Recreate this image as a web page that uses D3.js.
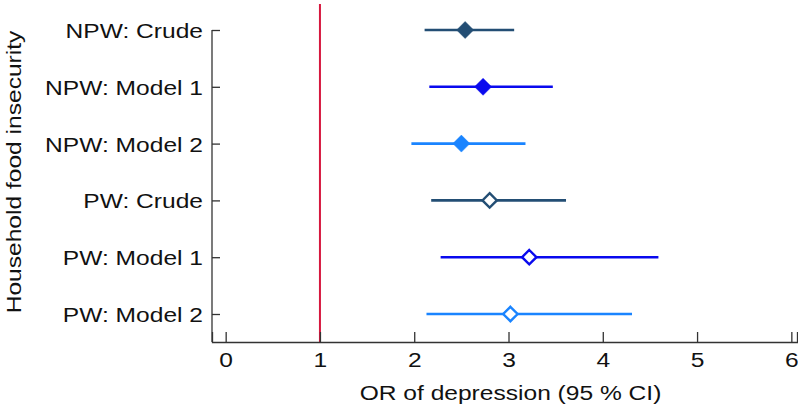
<!DOCTYPE html>
<html>
<head>
<meta charset="utf-8">
<script src="https://cdn.jsdelivr.net/npm/d3@7"></script>
<style>
  html, body { margin: 0; padding: 0; background: #fff; }
  svg { display: block; }
  text { font-family: "Liberation Sans", Arial, Helvetica, sans-serif; fill: #111; }
</style>
</head>
<body>
<svg id="chart" width="798" height="413"></svg>
<script>
// ---- data ----
const categories = ["NPW: Crude", "NPW: Model 1", "NPW: Model 2", "PW: Crude", "PW: Model 1", "PW: Model 2"];
const estimates  = [2.54, 2.73, 2.50, 2.80, 3.22, 3.02];
const lowerCI    = [2.11, 2.16, 1.97, 2.18, 2.28, 2.13];
const upperCI    = [3.06, 3.47, 3.18, 3.61, 4.59, 4.31];
const filled     = [true, true, true, false, false, false];
const colors     = ["#234e74", "#0a0aee", "#1a84ff", "#234e74", "#0a0aee", "#1a84ff"];
const xTicks     = [0, 1, 2, 3, 4, 5, 6];
const refValue   = 1;
const xTitle     = "OR of depression (95 % CI)";
const yTitle     = "Household food insecurity";

const rows = categories.map((c, i) => ({
  cat: c, est: estimates[i], lo: lowerCI[i], hi: upperCI[i], filled: filled[i], color: colors[i]
}));

const svg = d3.select("#chart");
const SX = 1.17; // horizontal text stretch seen in the reference
const FS = 21;
const mLeft = 212, mRight = 797, mTop = 30, mBottom = 342;

const x = d3.scaleLinear().domain([-0.145, 6.06]).range([mLeft, mRight]);
const y = d3.scalePoint().domain(categories).range([mTop, 314]);

// reference line
svg.append("line")
  .attr("x1", x(refValue)).attr("x2", x(refValue))
  .attr("y1", 4).attr("y2", mBottom)
  .attr("stroke", "#d6173e").attr("stroke-width", 2);

// x axis
const gx = svg.append("g").attr("transform", `translate(0,${mBottom})`);
gx.call(d3.axisBottom(x).tickValues(xTicks).tickSize(-10).tickPadding(0).tickFormat(d3.format("d")));
gx.select(".domain").attr("stroke", "#333").attr("stroke-width", 1.3);
gx.selectAll(".tick line").attr("stroke", "#333").attr("stroke-width", 1.3);
gx.selectAll(".tick text").remove();
gx.selectAll(".tick").append("text")
  .attr("transform", `translate(0,25) scale(${SX},1)`)
  .attr("text-anchor", "middle")
  .attr("font-size", FS)
  .text(d => d);

// y axis
const gy = svg.append("g").attr("transform", `translate(${mLeft},0)`);
gy.call(d3.axisLeft(y).tickSize(-8).tickPadding(0));
gy.select(".domain").attr("stroke", "#333").attr("stroke-width", 1.3)
  .attr("d", `M0,${mTop}V${mBottom}`);
gy.selectAll(".tick line").attr("stroke", "#333").attr("stroke-width", 1.3);
gy.selectAll(".tick text").remove();
gy.selectAll(".tick").append("text")
  .attr("transform", `translate(-9,7.5) scale(${SX},1)`)
  .attr("text-anchor", "end")
  .attr("font-size", FS)
  .text(d => d);

// CI lines
svg.append("g").selectAll("line").data(rows).join("line")
  .attr("x1", d => x(d.lo)).attr("x2", d => x(d.hi))
  .attr("y1", d => y(d.cat)).attr("y2", d => y(d.cat))
  .attr("stroke", d => d.color).attr("stroke-width", 2.6);

// diamonds
svg.append("g").selectAll("path").data(rows).join("path")
  .attr("transform", d => `translate(${x(d.est)},${y(d.cat)})`)
  .attr("d", d => {
    const r = d.filled ? 8.5 : 7.2;
    return `M0,${-r}L${r},0L0,${r}L${-r},0Z`;
  })
  .attr("fill", d => d.filled ? d.color : "#fff")
  .attr("stroke", d => d.color)
  .attr("stroke-width", d => d.filled ? 0.5 : 2.4);

// axis titles
svg.append("text")
  .attr("transform", `translate(${(x(0) + x(6)) / 2 + 2},400) scale(${SX},1)`)
  .attr("text-anchor", "middle")
  .attr("font-size", FS)
  .text(xTitle);

svg.append("text")
  .attr("transform", `translate(21,172) rotate(-90) scale(${SX},1)`)
  .attr("text-anchor", "middle")
  .attr("font-size", FS)
  .text(yTitle);
</script>
</body>
</html>
